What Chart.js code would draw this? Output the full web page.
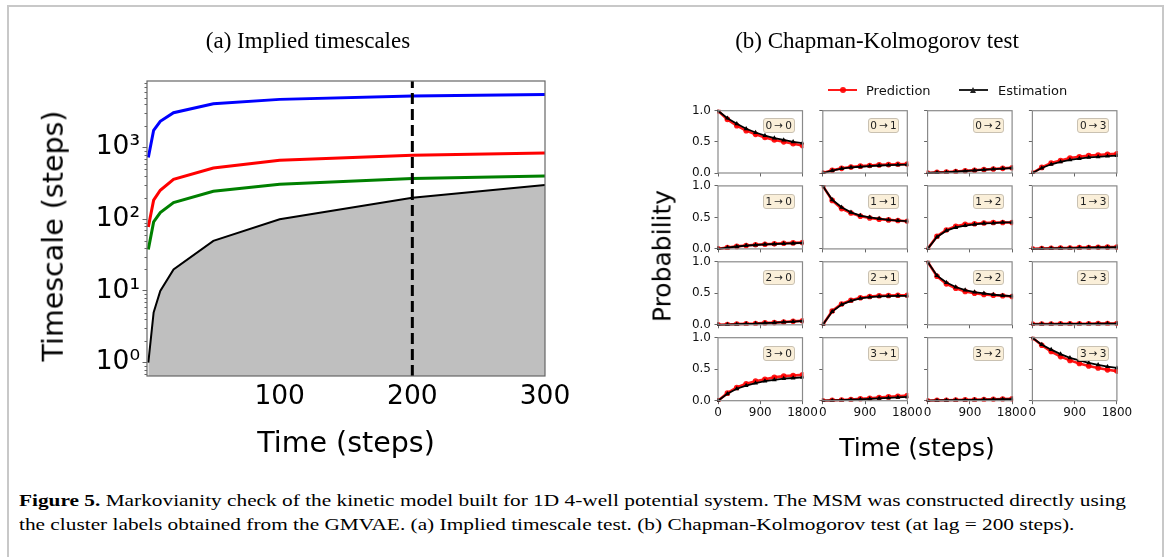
<!DOCTYPE html>
<html>
<head>
<meta charset="utf-8">
<script src="https://cdn.jsdelivr.net/npm/chart.js@4.4.1/dist/chart.umd.min.js"></script>
<style>
html,body{margin:0;padding:0;background:#fff;}
#page{position:relative;width:1167px;height:557px;overflow:hidden;background:#fff;}
#frame{position:absolute;left:7px;top:5px;width:1153px;height:620px;border-left:2px solid #c8c8c8;border-top:2px solid #c8c8c8;border-right:2px solid #c8c8c8;}
.cv{position:absolute;}
.txt{position:absolute;white-space:nowrap;color:#000;line-height:1;}
.note{position:absolute;box-sizing:border-box;background:#faefd9;border:1px solid #c9c1b2;border-radius:3px;font-family:'DejaVu Sans';font-size:10.5px;color:#222;display:flex;align-items:center;justify-content:center;line-height:1;}
</style>
</head>
<body>
<div id="page">
<div id="frame"></div>
</div>
<script>
// ---------- data: (a) implied timescales ----------
const lagTimes   = [1, 5, 10, 20, 50, 100, 200, 300];
const timescale1 = [726, 1742, 2324, 3070, 4100, 4710, 5230, 5520];
const timescale2 = [78, 185, 254, 360, 520, 665, 781, 841];
const timescale3 = [38, 92, 124, 171, 246, 308, 370, 402];
const lagLine    = [1, 5, 10, 20, 50, 100, 200, 300];
const chosenLag  = 200;
const timescaleTicks = [1, 10, 100, 1000];
const timeTicks  = [100, 200, 300];

// ---------- data: (b) Chapman-Kolmogorov test ----------
const ckSteps  = [0, 200, 400, 600, 800, 1000, 1200, 1400, 1600, 1800];
const ckXTicks = [0, 900, 1800];
const ckYTicks = [0, 0.5, 1.0];
const ckStates = [0, 1, 2, 3];
const pred00 = [1.00, 0.86, 0.76, 0.68, 0.62, 0.57, 0.53, 0.50, 0.47, 0.44];
const est00  = [1.00, 0.88, 0.79, 0.71, 0.65, 0.60, 0.56, 0.53, 0.50, 0.48];
const pred01 = [0.00, 0.045, 0.075, 0.095, 0.11, 0.12, 0.13, 0.135, 0.14, 0.145];
const est01  = [0.00, 0.04, 0.07, 0.09, 0.10, 0.11, 0.12, 0.125, 0.13, 0.135];
const pred02 = [0.00, 0.01, 0.015, 0.025, 0.035, 0.045, 0.055, 0.065, 0.075, 0.085];
const est02  = [0.00, 0.008, 0.013, 0.022, 0.032, 0.042, 0.052, 0.062, 0.07, 0.08];
const pred03 = [0.00, 0.09, 0.16, 0.20, 0.24, 0.26, 0.28, 0.29, 0.30, 0.31];
const est03  = [0.00, 0.08, 0.14, 0.18, 0.21, 0.23, 0.25, 0.26, 0.27, 0.28];
const pred10 = [0.00, 0.02, 0.04, 0.055, 0.065, 0.075, 0.08, 0.09, 0.095, 0.10];
const est10  = [0.00, 0.02, 0.038, 0.052, 0.062, 0.072, 0.078, 0.085, 0.09, 0.095];
const pred11 = [1.00, 0.77, 0.64, 0.57, 0.52, 0.49, 0.47, 0.46, 0.45, 0.44];
const est11  = [1.00, 0.78, 0.66, 0.58, 0.53, 0.50, 0.48, 0.46, 0.45, 0.44];
const pred12 = [0.00, 0.20, 0.30, 0.36, 0.39, 0.40, 0.41, 0.42, 0.42, 0.42];
const est12  = [0.00, 0.19, 0.29, 0.34, 0.37, 0.39, 0.405, 0.41, 0.42, 0.42];
const pred13 = [0.00, 0.005, 0.01, 0.012, 0.015, 0.02, 0.022, 0.025, 0.028, 0.03];
const est13  = [0.00, 0.004, 0.008, 0.01, 0.013, 0.017, 0.02, 0.022, 0.025, 0.027];
const pred20 = [0.00, 0.005, 0.01, 0.015, 0.02, 0.03, 0.035, 0.045, 0.055, 0.065];
const est20  = [0.00, 0.004, 0.009, 0.014, 0.019, 0.028, 0.033, 0.042, 0.05, 0.06];
const pred21 = [0.00, 0.22, 0.33, 0.39, 0.43, 0.45, 0.46, 0.465, 0.47, 0.47];
const est21  = [0.00, 0.21, 0.32, 0.38, 0.42, 0.44, 0.45, 0.455, 0.46, 0.46];
const pred22 = [1.00, 0.77, 0.65, 0.58, 0.53, 0.50, 0.48, 0.47, 0.46, 0.45];
const est22  = [1.00, 0.78, 0.67, 0.60, 0.55, 0.52, 0.50, 0.48, 0.465, 0.455];
const pred23 = [0.01, 0.012, 0.013, 0.014, 0.015, 0.016, 0.017, 0.018, 0.019, 0.02];
const est23  = [0.01, 0.011, 0.012, 0.013, 0.014, 0.015, 0.016, 0.017, 0.018, 0.019];
const pred30 = [0.00, 0.12, 0.21, 0.27, 0.31, 0.34, 0.37, 0.39, 0.40, 0.41];
const est30  = [0.00, 0.11, 0.19, 0.24, 0.28, 0.31, 0.33, 0.35, 0.36, 0.37];
const pred31 = [0.00, 0.005, 0.01, 0.02, 0.03, 0.04, 0.05, 0.06, 0.07, 0.08];
const est31  = [0.00, 0.004, 0.008, 0.015, 0.022, 0.03, 0.037, 0.045, 0.052, 0.06];
const pred32 = [0.00, 0.005, 0.008, 0.01, 0.013, 0.016, 0.019, 0.022, 0.026, 0.03];
const est32  = [0.00, 0.004, 0.007, 0.009, 0.011, 0.014, 0.017, 0.02, 0.023, 0.026];
const pred33 = [1.00, 0.88, 0.78, 0.70, 0.64, 0.59, 0.55, 0.52, 0.49, 0.47];
const est33  = [1.00, 0.89, 0.81, 0.74, 0.68, 0.64, 0.60, 0.57, 0.54, 0.52];

const predictions = [[pred00,pred01,pred02,pred03],[pred10,pred11,pred12,pred13],[pred20,pred21,pred22,pred23],[pred30,pred31,pred32,pred33]];
const estimations = [[est00,est01,est02,est03],[est10,est11,est12,est13],[est20,est21,est22,est23],[est30,est31,est32,est33]];

// ---------- helpers ----------
const page = document.getElementById('page');
const ASC = {'DejaVu Sans':0.846, 'Liberation Serif':0.8375};
function addText(str, family, size, x, baseline, align, extra) {
  const d = document.createElement('div');
  d.className = 'txt';
  d.textContent = str;
  d.style.fontFamily = "'" + family + "'";
  d.style.fontSize = size + 'px';
  d.style.left = x + 'px';
  d.style.top = (baseline - ASC[family] * size) + 'px';
  if (align === 'center') d.style.transform = 'translateX(-50%)';
  if (extra) Object.assign(d.style, extra);
  page.appendChild(d);
  return d;
}
function addRotated(str, family, size, cx, cy) {
  const d = document.createElement('div');
  d.className = 'txt';
  d.textContent = str;
  d.style.fontFamily = "'" + family + "'";
  d.style.fontSize = size + 'px';
  d.style.left = cx + 'px';
  d.style.top = cy + 'px';
  d.style.transform = 'translate(-50%,-50%) rotate(-90deg)';
  page.appendChild(d);
}
function makeCanvas(left, top, w, h) {
  const div = document.createElement('div');
  div.className = 'cv';
  div.style.left = left + 'px'; div.style.top = top + 'px';
  div.style.width = w + 'px'; div.style.height = h + 'px';
  const c = document.createElement('canvas');
  div.appendChild(c);
  page.appendChild(div);
  return c;
}
const framePlugin = {
  id: 'frameBox',
  afterDraw(chart, args, opts) {
    const a = chart.chartArea, ctx = chart.ctx;
    ctx.save();
    ctx.strokeStyle = opts.color || '#777';
    ctx.lineWidth = opts.width || 1;
    ctx.strokeRect(a.left, a.top, a.right - a.left, a.bottom - a.top);
    ctx.restore();
  }
};
const minorTickPlugin = {
  id: 'minorTicks',
  afterDraw(chart, args, opts) {
    if (!opts.enabled) return;
    const s = chart.scales.y, ctx = chart.ctx;
    ctx.save();
    ctx.strokeStyle = opts.color; ctx.lineWidth = 1;
    for (let d = -1; d <= 3; d++) {
      for (let k = 2; k <= 9; k++) {
        const v = k * Math.pow(10, d);
        if (v < s.min || v > s.max) continue;
        const y = Math.round(s.getPixelForValue(v)) + 0.5;
        ctx.beginPath(); ctx.moveTo(s.right - opts.length, y); ctx.lineTo(s.right, y); ctx.stroke();
      }
    }
    ctx.restore();
  }
};
Chart.register(framePlugin, minorTickPlugin);

// ---------- (a) implied timescales ----------
const A = {left:147, top:81, right:545, bottom:376};
const aW = 600, aH = 470;
const sup = ['⁰','¹','²','³','⁴'];
const pts = ys => lagTimes.map((x, i) => ({x: x, y: ys[i]}));
const yMinA = 0.65, yMaxA = 8500;
new Chart(makeCanvas(0, 0, aW, aH), {
  type: 'line',
  data: { datasets: [
    {data: [{x: chosenLag, y: yMinA}, {x: chosenLag, y: yMaxA}], borderColor: '#000', borderWidth: 3, borderDash: [11, 5], pointRadius: 0, fill: false, order: 1},
    {data: pts(timescale1), borderColor: '#0000ff', borderWidth: 3, pointRadius: 0, fill: false, order: 2},
    {data: pts(timescale2), borderColor: '#ff0000', borderWidth: 3, pointRadius: 0, fill: false, order: 3},
    {data: pts(timescale3), borderColor: '#008000', borderWidth: 3, pointRadius: 0, fill: false, order: 4},
    {data: pts(lagLine), borderColor: '#000', borderWidth: 2, backgroundColor: '#bfbfbf', pointRadius: 0, fill: 'start', order: 5}
  ]},
  options: {
    animation: false, responsive: true, maintainAspectRatio: false,
    layout: {padding: {left: 0, top: A.top, right: aW - A.right, bottom: aH - A.bottom - 40}},
    plugins: {legend: {display: false}, tooltip: {enabled: false},
      frameBox: {color: '#666', width: 1.2},
      minorTicks: {enabled: true, color: '#666', length: 2.5}},
    elements: {line: {tension: 0}},
    scales: {
      x: {type: 'linear', min: 0, max: 300,
        afterBuildTicks: s => { s.ticks = timeTicks.map(v => ({value: v})); },
        afterFit: s => { s.height = 40; },
        grid: {display: false, drawTicks: false}, border: {display: false},
        ticks: {font: {family: 'DejaVu Sans', size: 26.5}, color: '#000', padding: 4.8, maxRotation: 0, autoSkip: false}},
      y: {type: 'logarithmic', min: yMinA, max: yMaxA,
        afterBuildTicks: s => { s.ticks = timescaleTicks.map(v => ({value: v})); },
        afterFit: s => { s.width = A.left; },
        grid: {display: true, drawOnChartArea: false, drawTicks: true, tickLength: 4.5, color: '#666'}, border: {display: false},
        ticks: {font: {family: 'DejaVu Sans', size: 26.5}, color: '#000', padding: 2.5, autoSkip: false,
          callback: v => '10' + sup[Math.round(Math.log10(v))]}}
    }
  }
});
addText('(a) Implied timescales', 'Liberation Serif', 23, 308, 48, 'center');
addText('Time (steps)', 'DejaVu Sans', 28.5, 346, 453.5, 'center');
addRotated('Timescale (steps)', 'DejaVu Sans', 28.5, 54, 236);

// ---------- (b) Chapman-Kolmogorov test ----------
const gridLeft = 718, colStep = 104.8, plotW = 84.5;
const gridTop = 110, rowStep = 75.9, plotH = 63;
const padL = 45, padT = 10, padR = 22, padB = 30;
ckStates.forEach(i => {
  ckStates.forEach(j => {
    const pl = gridLeft + j * colStep, pt = gridTop + i * rowStep;
    const dl = Math.floor(pl) - padL, dt = Math.floor(pt) - padT;
    const w = Math.ceil(pl + plotW) + padR - dl, h = Math.ceil(pt + plotH) + padB - dt;
    const yW = pl - dl, tPad = pt - dt;
    const rPad = dl + w - (pl + plotW), xH = 24;
    const bPad = dt + h - (pt + plotH) - xH;
    const showY = j === 0, showX = i === 3;
    new Chart(makeCanvas(dl, dt, w, h), {
      type: 'line',
      data: { datasets: [
        {data: ckSteps.map((x, k) => ({x: x, y: estimations[i][j][k]})), borderColor: '#000', borderWidth: 1.8,
          pointStyle: 'triangle', pointRadius: 2.8, pointBackgroundColor: '#000', pointBorderWidth: 0, fill: false, order: 1, clip: 1},
        {data: ckSteps.map((x, k) => ({x: x, y: predictions[i][j][k]})), borderColor: 'rgba(255,0,0,0.9)', borderWidth: 2.6,
          pointStyle: 'circle', pointRadius: 2.8, pointBackgroundColor: 'rgba(255,0,0,0.9)', pointBorderWidth: 0, fill: false, order: 2, clip: 1}
      ]},
      options: {
        animation: false, responsive: true, maintainAspectRatio: false,
        layout: {padding: {left: 0, top: tPad, right: rPad, bottom: bPad}},
        plugins: {legend: {display: false}, tooltip: {enabled: false}, frameBox: {color: '#8a8a8a', width: 1.2}, minorTicks: {enabled: false}},
        elements: {line: {tension: 0}},
        scales: {
          x: {type: 'linear', min: 0, max: 1800,
            afterBuildTicks: s => { s.ticks = ckXTicks.map(v => ({value: v})); },
            afterFit: s => { s.height = xH; },
            grid: {display: true, drawOnChartArea: false, drawTicks: true, tickLength: 3.5, color: '#666'}, border: {display: false},
            ticks: {font: {family: 'DejaVu Sans', size: 12}, color: '#111', padding: 1.5, maxRotation: 0, autoSkip: false,
              callback: v => showX ? String(v) : ''}},
          y: {type: 'linear', min: 0, max: 1,
            afterBuildTicks: s => { s.ticks = ckYTicks.map(v => ({value: v})); },
            afterFit: s => { s.width = yW; },
            grid: {display: true, drawOnChartArea: false, drawTicks: true, tickLength: 3.5, color: '#666'}, border: {display: false},
            ticks: {font: {family: 'DejaVu Sans', size: 12}, color: '#111', padding: 3.5, autoSkip: false,
              callback: v => showY ? v.toFixed(1) : ''}}
        }
      }
    });
    const note = document.createElement('div');
    note.className = 'note';
    note.textContent = i + '\u2009\u2192\u2009' + j;
    note.style.left = (pl + plotW - 8 - 31.5) + 'px';
    note.style.top = (pt + 8) + 'px';
    note.style.width = '31.5px';
    note.style.height = '15px';
    page.appendChild(note);
  });
});
addText('(b) Chapman-Kolmogorov test', 'Liberation Serif', 23, 877, 48, 'center');
addText('Time (steps)', 'DejaVu Sans', 25, 917, 456.5, 'center');
addRotated('Probability', 'DejaVu Sans', 25, 661.5, 256);

// legend
function legendItem(x0, x1, color, lw, marker, label, tx) {
  const ln = document.createElement('div');
  ln.style.cssText = 'position:absolute;left:' + x0 + 'px;top:' + (90 - lw / 2) + 'px;width:' + (x1 - x0) + 'px;height:' + lw + 'px;background:' + color + ';';
  page.appendChild(ln);
  const m = document.createElement('div');
  const cx = (x0 + x1) / 2;
  if (marker === 'circle') {
    m.style.cssText = 'position:absolute;left:' + (cx - 3) + 'px;top:87px;width:6px;height:6px;border-radius:50%;background:' + color + ';';
  } else {
    m.style.cssText = 'position:absolute;left:' + (cx - 3.5) + 'px;top:86.5px;width:0;height:0;border-left:3.5px solid transparent;border-right:3.5px solid transparent;border-bottom:6px solid ' + color + ';';
  }
  page.appendChild(m);
  addText(label, 'DejaVu Sans', 13, tx, 94.7, 'left', {color: '#111'});
}
legendItem(828, 857, 'rgba(255,0,0,0.9)', 2.6, 'circle', 'Prediction', 866);
legendItem(959, 988, '#222', 2, 'triangle', 'Estimation', 998);

// caption
const cap1 = addText('', 'Liberation Serif', 17.5, 19, 507, 'left');
const b = document.createElement('b'); b.textContent = 'Figure 5.';
cap1.appendChild(b);
cap1.appendChild(document.createTextNode(' Markovianity check of the kinetic model built for 1D 4-well potential system. The MSM was constructed directly using'));
const cap2 = addText('the cluster labels obtained from the GMVAE. (a) Implied timescale test. (b) Chapman-Kolmogorov test (at lag = 200 steps).', 'Liberation Serif', 17.5, 19, 531, 'left');
cap1.style.color = '#000'; cap2.style.color = '#000';
const natural = cap1.getBoundingClientRect().width;
const sc = (1126 - 19) / natural;
[cap1, cap2].forEach(c => { c.style.transformOrigin = '0 0'; c.style.transform = 'scaleX(' + sc + ')'; });
</script>
</body>
</html>
